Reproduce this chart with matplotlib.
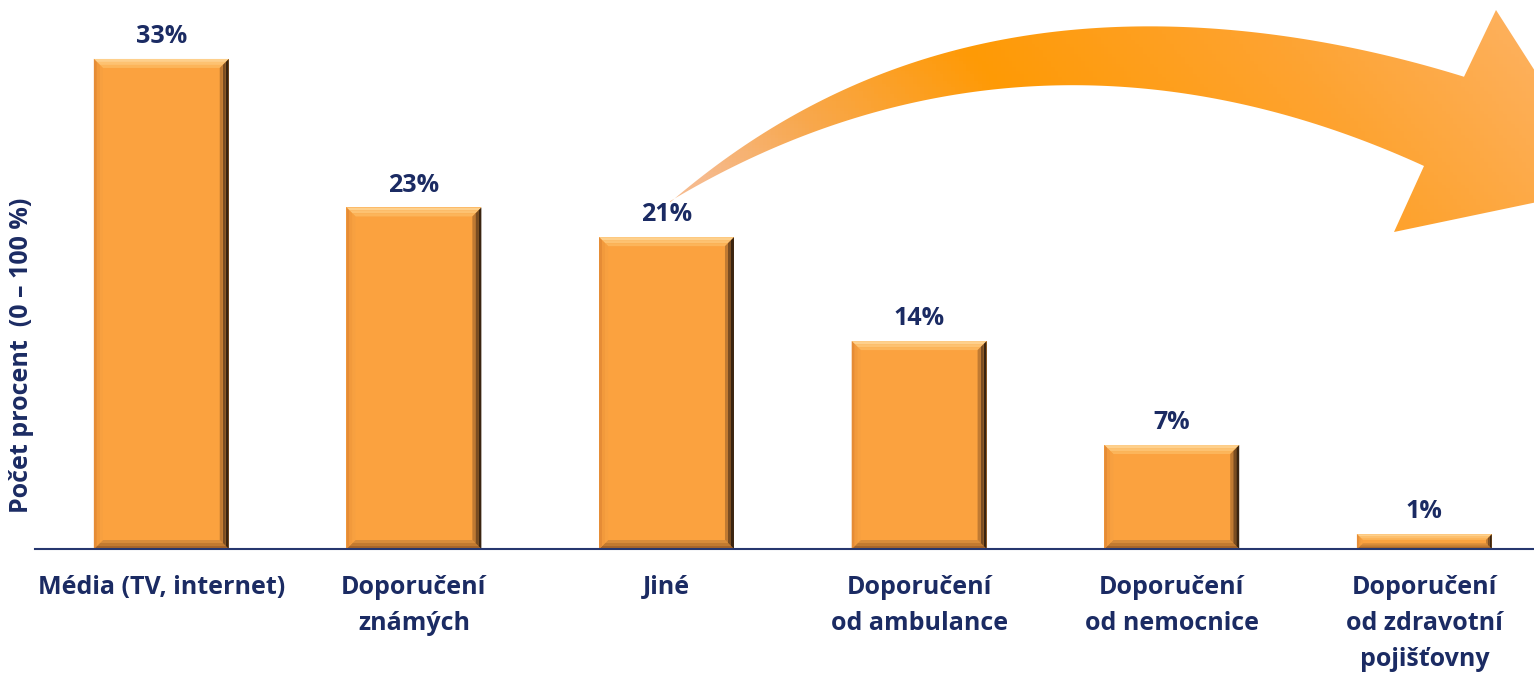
import numpy as np
import matplotlib.pyplot as plt
from matplotlib.patches import Polygon
from matplotlib.colors import LinearSegmentedColormap

plt.rcParams['font.family'] = ['Open Sans', 'DejaVu Sans']

categories = ["Média (TV, internet)", "Doporučení\nznámých", "Jiné",
              "Doporučení\nod ambulance", "Doporučení\nod nemocnice",
              "Doporučení\nod zdravotní\npojišťovny"]
values = [33, 23, 21, 14, 7, 1]
value_labels = ["33%", "23%", "21%", "14%", "7%", "1%"]

navy = "#1b2b63"
face = "#fba23f"

W, H = 1534, 673
fig = plt.figure(figsize=(W / 100, H / 100), dpi=100)
ax = fig.add_axes([35 / W, 124 / H, 1 - 35 / W, 549 / H])
ax.set_xlim(-0.5, 5.434)
ax.set_ylim(0, 36.97)

bar_w = 0.534
x = np.arange(len(categories))
ax.bar(x, values, width=bar_w, color=face, zorder=2)

# pixel size of one data unit, used for the bevel edges
px_x = 1499 / (5.434 + 0.5)
px_y = 549 / 36.97

# bevel shading per side, outer edge first
bevel = {
    "top": ["#fed08c", "#fdc271", "#fcb55a"],
    "bottom": ["#a8662a", "#c27a30", "#d88c3a"],
    "left": ["#e58c36", "#f29a3c", "#f7a040"],
    "right": ["#3a2410", "#7a4d22", "#c07a32"],
}


def inset(x0, y0, x1, y1, d):
    return x0 + d / px_x, y0 + d / px_y, x1 - d / px_x, y1 - d / px_y


def side_strip(r1, r2, side):
    a0, b0, a1, b1 = r1
    c0, d0, c1, d1 = r2
    if side == "top":
        return [(a0, b1), (a1, b1), (c1, d1), (c0, d1)]
    if side == "bottom":
        return [(a0, b0), (a1, b0), (c1, d0), (c0, d0)]
    if side == "left":
        return [(a0, b0), (a0, b1), (c0, d1), (c0, d0)]
    return [(a1, b0), (a1, b1), (c1, d1), (c1, d0)]


for xi, v in zip(x, values):
    b = min(9, v * px_y / 2.6)
    rect = (xi - bar_w / 2, 0, xi + bar_w / 2, v)
    n = 3
    for k in range(n):
        r1 = inset(*rect, b * k / n)
        r2 = inset(*rect, b * (k + 1) / n)
        for side in ["top", "bottom", "left", "right"]:
            ax.add_patch(Polygon(side_strip(r1, r2, side), color=bevel[side][k], lw=0, zorder=3))

for xi, v, lab in zip(x, values, value_labels):
    ax.annotate(lab, (xi, v), xytext=(0, 7), textcoords="offset points",
                ha="center", va="bottom", fontsize=18, fontweight="bold", color=navy)

ax.set_xticks(x)
ax.set_xticklabels(categories, fontsize=18, fontweight="bold", color=navy, linespacing=1.58,
                   va="top")
ax.tick_params(axis="x", length=0, pad=19)
ax.set_yticks([])
for s in ["top", "right", "left"]:
    ax.spines[s].set_visible(False)
ax.spines["bottom"].set_color("#26376f")
ax.spines["bottom"].set_linewidth(1.5)
ax.spines["bottom"].set_zorder(5)

fig.text(22 / W, 1 - 355 / H, "Počet procent  (0 – 100 %)", rotation=90, ha="center", va="center",
         fontsize=18, fontweight="bold", color=navy)

# curved arrow drawn in pixel coordinates on a full-figure overlay
ov = fig.add_axes([0, 0, 1, 1], zorder=1)
ov.set_xlim(0, W)
ov.set_ylim(H, 0)
ov.axis("off")

outer_x = [670, 750, 850, 950, 1050, 1151, 1251, 1351, 1464]
outer_y = [202, 143, 87, 50, 33, 27, 32, 47, 77]
inner_x = [670, 750, 850, 950, 1050, 1100, 1184, 1284, 1384, 1424]
inner_y = [202, 157, 120, 97, 86, 84, 93, 115, 150, 165]
ox = np.linspace(670, 1464, 120)
oy = np.polyval(np.polyfit(outer_x, outer_y, 4), ox)
ix = np.linspace(1424, 670, 120)
iy = np.polyval(np.polyfit(inner_x, inner_y, 4), ix)
head = [(1496, 10), (1609, 187), (1394, 232)]
verts = list(zip(ox, oy)) + head + list(zip(ix, iy))
arrow = Polygon(verts, closed=True, facecolor="none", edgecolor="none", transform=ov.transData)
ov.add_patch(arrow)

cmap = LinearSegmentedColormap.from_list("arr", [
    (0.0, "#f6ba8c"), (0.15, "#f8a84e"), (0.38, "#ff9a05"),
    (0.7, "#fea330"), (1.0, "#fdb262")])
gx, gy = np.meshgrid(np.linspace(0, W, 400), np.linspace(0, H, 200))
grad = np.clip((gx - 0.8 * gy - 560) / (1534 - 560), 0, 1)
img = ov.imshow(grad, cmap=cmap, extent=(0, W, H, 0), aspect="auto", vmin=0, vmax=1)
img.set_clip_path(arrow)
ov.set_xlim(0, W)
ov.set_ylim(H, 0)

fig.savefig("out.png", dpi=100)
